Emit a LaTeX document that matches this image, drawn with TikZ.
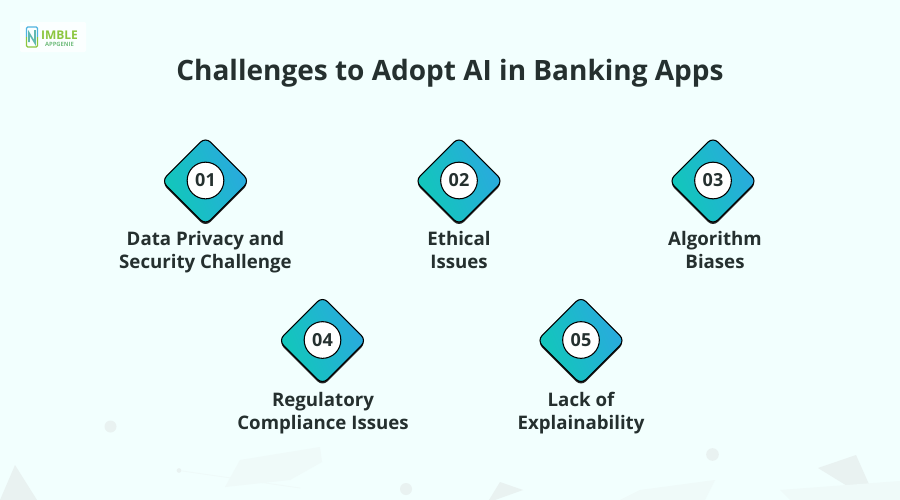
\documentclass[tikz,border=0pt]{standalone}
\usepackage{fontspec}
\setmainfont{Open Sans}
\usetikzlibrary{positioning}
\definecolor{pagebg}{HTML}{F2FFFE}
\definecolor{decogray}{HTML}{E9F2F1}
\definecolor{decofaint}{HTML}{EFFAF9}
\definecolor{inkdark}{HTML}{25302F}
\definecolor{teallow}{HTML}{10C9B8}
\definecolor{bluehigh}{HTML}{2BA8E0}
\definecolor{logogreen}{HTML}{8CC63F}
\definecolor{logoblue}{HTML}{4FB3E0}

\begin{document}
\begin{tikzpicture}[x=0.75pt,y=-0.75pt]
\tikzset{heading/.style={font=\bfseries\fontsize{21}{25}\selectfont,text=inkdark}}
\tikzset{shadowbox/.style={rectangle,fill=black!85,rounded corners=5.2pt,minimum size=46.5pt,inner sep=0pt,rotate=45}}
\tikzset{diamondbox/.style={shadowbox,draw=black,line width=0.8pt,left color=teallow,right color=bluehigh,shading angle=112}}
\tikzset{numcircle/.style={circle,draw=black,line width=0.8pt,fill=white,minimum size=27.5pt,inner sep=0pt,
  font=\bfseries\fontsize{13.5}{16}\selectfont,text=inkdark}}
\tikzset{itemtext/.style={align=center,font=\bfseries\fontsize{14}{17.3}\selectfont,text=inkdark,inner sep=0pt}}
\tikzset{decodot/.style={circle,fill=decogray,inner sep=0pt}}
	% page and background marks
	\fill[pagebg] (0,0) rectangle (900,500);
	\useasboundingbox (0,0) rectangle (900,500);
	\fill[decogray] (15,465) -- (37,500) -- (0,500) -- cycle;
	\fill[decogray] (818,468) -- (856,455) -- (876,500) -- (870,500) -- cycle;
	\fill[decogray] (500,482) -- (523,490) -- (495,500) -- (489,500) -- cycle;
	\fill[decofaint] (240,460) -- (320,447) -- (322,462) -- (290,480) -- (225,487) -- cycle;
	\fill[decofaint] (640,490) -- (715,480) -- (705,500) -- (620,500) -- cycle;
	\fill[decofaint] (780,490) -- (900,481) -- (900,500) -- (790,500) -- cycle;
	\node[decodot,minimum size=9pt] (dot1) at (110.5,426.5) {};
	\node[decodot,minimum size=9.5pt] (dot2) at (712.5,454.5) {};
	\node[decodot,minimum size=3.5pt] (dot3) at (179,470.5) {};
	\node[decodot,minimum size=9pt] (dot4) at (406,489) {};
	\draw[decofaint,line width=0.6pt] (dot3) -- (300,488);
	% logo
	\fill[white!70!pagebg,rounded corners=1pt] (20,22) rectangle (86,52);
	\draw[logoblue,line width=0.9pt,rounded corners=1pt] (26.5,37) -- (26.5,27) -- (37.5,27) -- (37.5,37);
	\draw[logogreen,line width=0.9pt,rounded corners=1pt] (26.5,37) -- (26.5,47) -- (37.5,47) -- (37.5,37);
	\draw[logoblue!70!logogreen,line width=1.2pt] (29,42) -- (29,33) -- (35,43) -- (35,30);
	\node[font=\bfseries\fontsize{9}{9}\selectfont,text=logogreen,inner sep=0pt] (logoname) at (59.5,35.5) {IMBLE};
	\node[font=\bfseries\fontsize{4.4}{5}\selectfont,text=logoblue!40!logogreen,inner sep=0pt,below=1.5pt of logoname] (logosub) {APPGENIE};
	% title
	\node[heading] (title) at (450,73) {Challenges to Adopt AI in Banking Apps};
	% items
	\node[shadowbox] (s1) at (205.5,183) {};
	\node[diamondbox] (d1) at (205.5,181) {};
	\node[numcircle] (n1) at (205.5,180.5) {01};
	\node[itemtext] (t1) at (205.5,252.5) {Data Privacy and\\Security Challenge};
	\node[shadowbox] (s2) at (459,183) {};
	\node[diamondbox] (d2) at (459,181) {};
	\node[numcircle] (n2) at (459,180.5) {02};
	\node[itemtext] (t2) at (459,250) {Ethical\\Issues};
	\node[shadowbox] (s3) at (713,183) {};
	\node[diamondbox] (d3) at (713,181) {};
	\node[numcircle] (n3) at (713,180.5) {03};
	\node[itemtext] (t3) at (715,250) {Algorithm\\Biases};
	\node[shadowbox] (s4) at (322.5,342.5) {};
	\node[diamondbox] (d4) at (322.5,340.5) {};
	\node[numcircle] (n4) at (322.5,340) {04};
	\node[itemtext] (t4) at (323,413.5) {Regulatory\\Compliance Issues};
	\node[shadowbox] (s5) at (581,342.5) {};
	\node[diamondbox] (d5) at (581,340.5) {};
	\node[numcircle] (n5) at (581,340) {05};
	\node[itemtext] (t5) at (581,413.5) {Lack of\\Explainability};
\end{tikzpicture}
\end{document}
